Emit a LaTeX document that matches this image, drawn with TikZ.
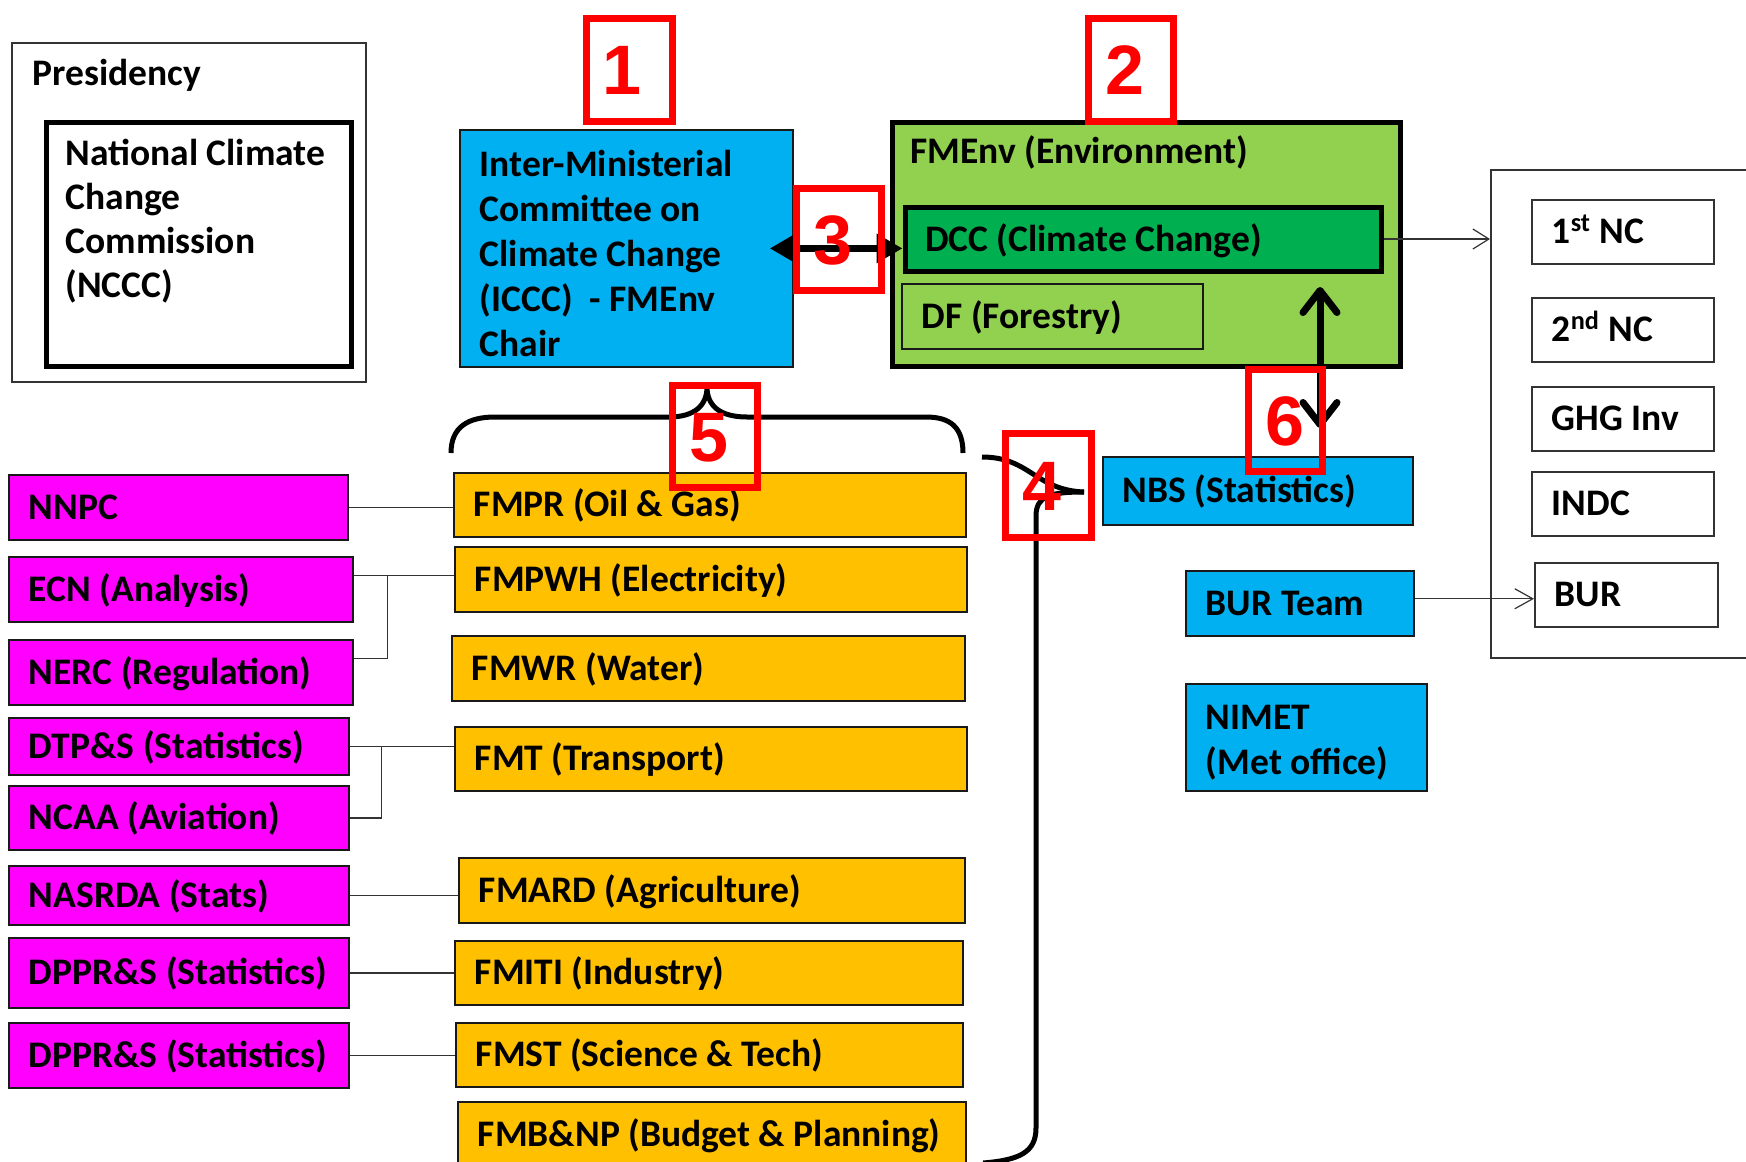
\documentclass[tikz,border=0pt]{standalone}
\usepackage{fontspec}
\setmainfont{Carlito}
\newfontfamily\digfont{Liberation Sans}
\usetikzlibrary{arrows.meta,calc}
\definecolor{mag}{HTML}{FF00FF}
\definecolor{org}{HTML}{FFC000}
\definecolor{sky}{HTML}{00B0F0}
\definecolor{ltg}{HTML}{92D050}
\definecolor{dkg}{HTML}{00B050}
\definecolor{rd}{HTML}{FF0000}
\hyphenpenalty=10000
\exhyphenpenalty=10000
\newcommand\bxf{\bfseries\fontsize{18.75}{22.5}\selectfont}
\newcommand\dgf{\digfont\bfseries\fontsize{35}{35}\selectfont}
\newcommand\natspace{\spaceskip=0pt\xspaceskip=0pt\relax}
\begin{document}
\begin{tikzpicture}[x=0.5pt,y=-0.5pt,
 bx/.style={draw=black!90, line width=0.9pt, anchor=north west, inner xsep=10pt, inner ysep=0pt, text height=12pt, text depth=0pt, font=\bxf, execute at begin node=\natspace},
 mg/.style={bx, fill=mag},
 og/.style={bx, fill=org},
 bl/.style={bx, fill=sky},
 wb/.style={bx, fill=white, draw=black!80, line width=0.75pt},
 rbox/.style={draw=rd, line width=3.5pt, anchor=north west, inner sep=0pt, text=rd, font=\dgf, text height=25pt, text depth=0pt},
 conn/.style={draw=black!80, line width=0.6pt},
 thickarr/.style={line width=3.5pt, draw=black},
 bracel/.style={line width=2.5pt, draw=black},
 lbl/.style={anchor=base west, inner sep=0pt, font=\bxf}]
\useasboundingbox (0,0) rectangle (1746,1162);
\clip (0,0) rectangle (1746,1162);
\fill[white] (0,0) rectangle (1746,1162);

% Presidency
\node[draw=black!80, line width=0.75pt, anchor=north west, minimum width=177pt, minimum height=169.5pt, inner sep=0pt] (pres) at (11,42) {};
\node[lbl] (prest) at (32,85) {Presidency};
\node[bx, fill=white, draw=black, line width=2.5pt, minimum height=122pt, text width=133pt, inner xsep=9.75pt, text depth=90.7pt, font=\bfseries\fontsize{18.75}{22}\selectfont] (nccc) at (43.5,119.5) {National Climate\\Change\\Commission\\(NCCC)};

% ICCC
\node[bl, minimum height=118.5pt, text width=146.5pt, text depth=84pt] (iccc) at (459,129) {Inter-Ministerial\\Committee on\\Climate Change\\(ICCC) \ - FMEnv\\Chair};

% FMEnv
\node[draw=black, line width=2.5pt, fill=ltg, anchor=north west, minimum width=254pt, minimum height=122pt, inner sep=0pt] (fmenv) at (889.5,119.5) {};
\node[lbl] (fmenvt) at (910,163) {FMEnv (Environment)};
\node[bx, fill=dkg, draw=black, line width=2.5pt, minimum height=32pt, text width=218pt] (dcc) at (902.5,204.5) {DCC (Climate Change)};
\node[bx, fill=ltg, minimum height=32.5pt, text width=130.5pt] (df) at (901,283) {DF (Forestry)};

% magenta agencies
\node[mg, minimum height=32.5pt, text width=149.5pt] (nnpc) at (8,474) {NNPC};
\node[mg, minimum height=32.5pt, text width=152pt] (ecn) at (8,556) {ECN (Analysis)};
\node[mg, minimum height=32.5pt, text width=152pt] (nerc) at (8,639) {NERC (Regulation)};
\node[mg, minimum height=28.5pt, text width=150pt] (dtps) at (8,717) {DTP\&S (Statistics)};
\node[mg, minimum height=32pt, text width=150pt] (ncaa) at (8,785) {NCAA (Aviation)};
\node[mg, minimum height=29.5pt, text width=150pt] (nasrda) at (8,865) {NASRDA (Stats)};
\node[mg, minimum height=35pt, text width=150pt] (dppra) at (8,937) {DPPR\&S (Statistics)};
\node[mg, minimum height=32.5pt, text width=150pt] (dpprb) at (8,1022) {DPPR\&S (Statistics)};

% orange ministries
\node[og, minimum height=32pt, text width=236pt] (fmpr) at (453,472) {FMPR (Oil \& Gas)};
\node[og, minimum height=32.5pt, text width=236pt] (fmpwh) at (454,546) {FMPWH (Electricity)};
\node[og, minimum height=32.5pt, text width=236.5pt] (fmwr) at (451,635) {FMWR (Water)};
\node[og, minimum height=32pt, text width=236pt] (fmt) at (454,726) {FMT (Transport)};
\node[og, minimum height=32.5pt, text width=233pt] (fmard) at (458,857) {FMARD (Agriculture)};
\node[og, minimum height=32pt, text width=234pt] (fmiti) at (454,940) {FMITI (Industry)};
\node[og, minimum height=32pt, text width=233.5pt] (fmst) at (455,1022) {FMST (Science \& Tech)};
\node[og, minimum height=32.5pt, text width=234pt] (fmbnp) at (457,1101) {\mbox{FMB\&NP (Budget \& Planning)}};

% blue agencies
\node[bl, minimum height=34pt, text width=135pt] (nbs) at (1102,456) {NBS (Statistics)};
\node[bl, minimum height=32.5pt, text width=94pt] (burteam) at (1185,570) {BUR Team};
\node[bl, minimum height=53.5pt, text width=100.5pt, text depth=19.5pt, font=\bfseries\fontsize{18.75}{22.5}\selectfont] (nimet) at (1185,683) {NIMET\\(Met office)};

% reports
\node[draw=black!80, line width=0.75pt, anchor=north west, minimum width=140pt, minimum height=244pt, inner sep=0pt] (outbox) at (1490,169) {};
\node[wb, minimum height=32pt, text width=71pt] (nca) at (1531,199) {1\textsuperscript{st} NC};
\node[wb, minimum height=32pt, text width=71pt] (ncb) at (1531,297) {2\textsuperscript{nd} NC};
\node[wb, minimum height=32pt, text width=71pt] (ghg) at (1531,386) {GHG Inv};
\node[wb, minimum height=32pt, text width=71pt] (indc) at (1531,471) {INDC};
\node[wb, minimum height=32pt, text width=71.5pt] (bur) at (1534,562) {BUR};

% thin connectors
\draw[conn] (nnpc.east) -- (nnpc.east -| fmpr.west);
\draw[conn] ($(ecn.east |- fmpwh.west)+(0,-4)$) -- ($(fmpwh.west)+(0,-4)$);
\draw[conn] ([yshift=7pt]nerc.east) -| ($(ecn.east |- fmpwh.west)+(34,-4)$);
\draw[conn] (dtps.east) -- (dtps.east -| fmt.west);
\draw[conn] (ncaa.east) -| ($(dtps.east)+(32,0)$);
\draw[conn] (nasrda.east) -- (nasrda.east -| fmard.west);
\draw[conn] (dppra.east) -- (dppra.east -| fmiti.west);
\draw[conn] (dpprb.east) -- (dpprb.east -| fmst.west);
\draw[conn, -{Straight Barb[length=8pt,width=10pt]}] (dcc.east) -- (dcc.east -| outbox.west);
\draw[conn, -{Straight Barb[length=9pt,width=10pt]}] ($(burteam.east |- bur.west)+(0,4)$) -- ($(bur.west)+(0,4)$);

% thick arrows
\draw[thickarr, {Triangle[length=13pt,width=14pt]}-{Triangle[length=13pt,width=14pt]}] ([xshift=-12pt]iccc.east) -- (iccc.east -| dcc.west);
\coordinate (asixt) at (1320,287);
\coordinate (asixb) at (1320,428);
\draw[thickarr, {Straight Barb[length=11pt,width=17pt,round]}-{Straight Barb[length=11pt,width=17pt,round]}] (asixb) -- (asixt);

% brace 5
\draw[bracel] (451,453) .. controls (451,427) and (468,417) .. (495,417) -- (669,417)
  .. controls (695,417) and (707,405) .. (707,387)
  .. controls (707,405) and (719,417) .. (747,417) -- (926,417)
  .. controls (950,417) and (963,427) .. (963,453);
% brace 4
\draw[bracel] (982,457) .. controls (1030,457) and (1035,490) .. (1084,492);
\draw[bracel] (1084,492) .. controls (1050,492) and (1036,496) .. (1036,516) -- (1036,1128)
  .. controls (1036,1152) and (1020,1160) .. (983,1163);

% red numbered markers
\node[rbox, minimum width=43pt, minimum height=51.75pt] (rone) at (582.5,14.5) {\kern-7pt 1};
\node[rbox, minimum width=42.5pt, minimum height=51.75pt] (rtwo) at (1085,14.5) {\kern-6pt 2};
\node[rbox, minimum width=42.5pt, minimum height=51.25pt] (rthree) at (793,184.5) {\kern-6pt 3};
\node[rbox, minimum width=43.3pt, minimum height=51.85pt] (rfour) at (1001.7,430.3) {\kern-7pt 4};
\node[rbox, minimum width=42.25pt, minimum height=51.15pt] (rfive) at (669,381.7) {\kern-6pt 5};
\node[rbox, minimum width=37pt, minimum height=51.25pt] (rsix) at (1244.5,365.5) {6};
\end{tikzpicture}
\end{document}
